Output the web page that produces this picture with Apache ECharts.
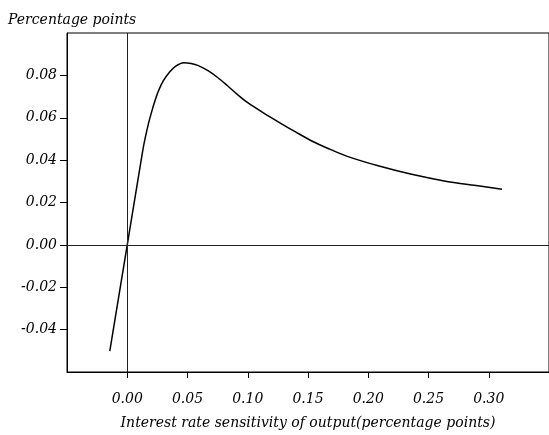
<!DOCTYPE html>
<html>
<head>
<meta charset="utf-8">
<script src="https://cdn.jsdelivr.net/npm/echarts@6/dist/echarts.min.js"></script>
<style>
html,body{margin:0;padding:0;background:#fff;}
#chart{width:549px;height:435px;}
</style>
</head>
<body>
<div id="chart"></div>
<script>
// Data
var sensitivity = [-0.0145, 0.000, 0.013, 0.015, 0.0175, 0.020, 0.023, 0.026, 0.030, 0.035, 0.040, 0.047, 0.053, 0.059, 0.067, 0.075, 0.083, 0.092, 0.100, 0.113, 0.127, 0.140, 0.154, 0.168, 0.182, 0.209, 0.236, 0.263, 0.291, 0.311];
var effect      = [-0.0501, 0.000, 0.0449, 0.0507, 0.0570, 0.0623, 0.0680, 0.0728, 0.0775, 0.0815, 0.0843, 0.0860, 0.0856, 0.0846, 0.0822, 0.0790, 0.0752, 0.0707, 0.0671, 0.0623, 0.0575, 0.0532, 0.0488, 0.0452, 0.0419, 0.0372, 0.0333, 0.0302, 0.0279, 0.0263];
var xTicks = [0.00, 0.05, 0.10, 0.15, 0.20, 0.25, 0.30];
var yTicks = [-0.04, -0.02, 0.00, 0.02, 0.04, 0.06, 0.08];
var titleText = 'Percentage points';
var xName = 'Interest rate sensitivity of output(percentage points)';

var FONT = 'DejaVu Serif';
var points = sensitivity.map(function (x, i) { return [x, effect[i]]; });

var chart = echarts.init(document.getElementById('chart'), null, {renderer: 'canvas'});
chart.setOption({
  animation: false,
  backgroundColor: '#fff',
  title: {
    text: titleText,
    left: 8, top: 13, padding: 0,
    textStyle: {fontFamily: FONT, fontStyle: 'italic', fontWeight: 'normal', fontSize: 14, color: '#000'}
  },
  grid: {
    left: 67, top: 33, right: -7, bottom: 58,
    show: true, borderColor: '#000', borderWidth: 1, backgroundColor: 'transparent'
  },
  xAxis: {
    type: 'value', min: -0.05, max: 0.35, interval: 0.05,
    name: xName, nameLocation: 'middle', nameGap: 44,
    nameTextStyle: {fontFamily: FONT, fontStyle: 'italic', fontSize: 14, color: '#000'},
    axisLine: {show: true, onZero: false, lineStyle: {color: '#000', width: 1}},
    axisTick: {show: true, length: 6, customValues: xTicks, lineStyle: {color: '#000'}},
    axisLabel: {
      customValues: xTicks, margin: 20,
      fontFamily: FONT, fontStyle: 'italic', fontSize: 14, color: '#000',
      formatter: function (v) { return v.toFixed(2); }
    },
    splitLine: {show: false}
  },
  yAxis: {
    type: 'value', min: -0.06, max: 0.10, interval: 0.02,
    axisLine: {show: true, onZero: false, lineStyle: {color: '#000', width: 1}},
    axisTick: {show: true, length: 7, customValues: yTicks, lineStyle: {color: '#000'}},
    axisLabel: {
      customValues: yTicks, margin: 10,
      fontFamily: FONT, fontStyle: 'italic', fontSize: 14, color: '#000',
      formatter: function (v) { return v.toFixed(2); }
    },
    splitLine: {show: false}
  },
  series: [{
    type: 'line',
    data: points,
    smooth: 0.3,
    showSymbol: false,
    lineStyle: {color: '#000', width: 1.5},
    markLine: {
      silent: true,
      symbol: ['none', 'none'],
      label: {show: false},
      lineStyle: {color: '#222', width: 1, type: 'solid'},
      data: [{xAxis: 0}, {yAxis: 0}]
    }
  }]
});
</script>
</body>
</html>
